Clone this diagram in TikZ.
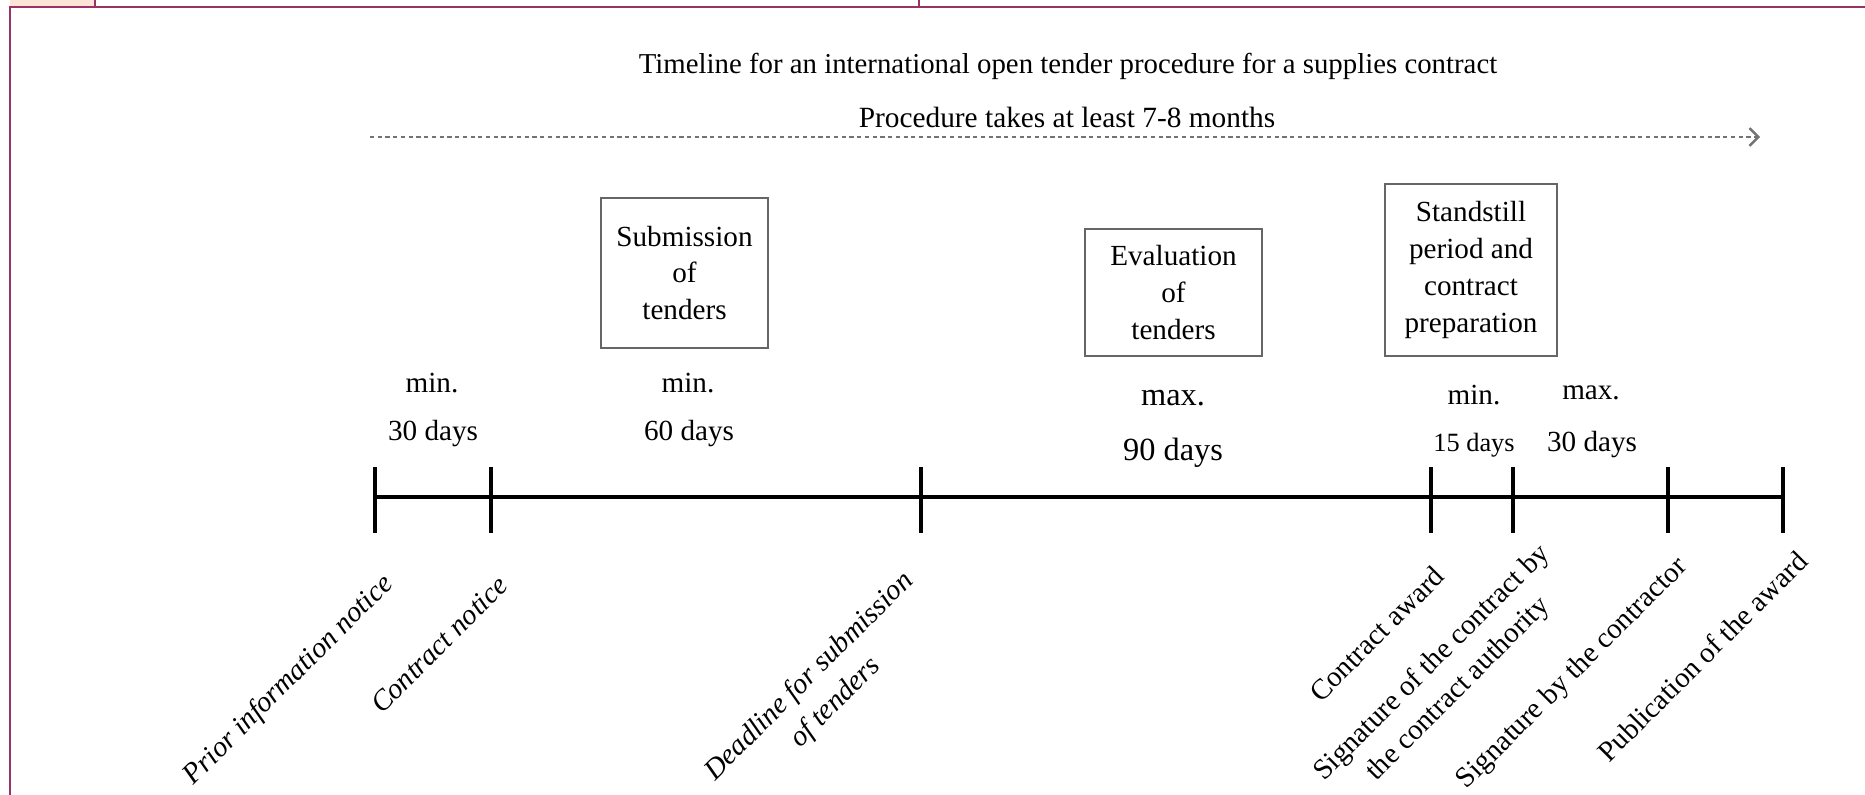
\documentclass[tikz,border=0pt]{standalone}
\usepackage{fontspec}
\setmainfont{Liberation Serif}
\usetikzlibrary{arrows.meta}
\definecolor{rule}{RGB}{153,51,102}
\definecolor{cellpeach}{RGB}{252,228,214}
\tikzset{
  period/.style={draw=black!60, line width=.5pt, align=center, inner sep=0pt,
    font=\fontsize{8.3}{10.5}\selectfont},
  span/.style={inner sep=0pt, font=\fontsize{8.3}{10}\selectfont},
  event/.style={rotate=45, anchor=north east, align=center, inner sep=0pt,
    font=\fontsize{8.2}{10.5}\selectfont},
  tick/.style={line width=1.1pt},
}

\begin{document}
\begin{tikzpicture}[x=1cm, y=1cm]

    \useasboundingbox (0,0) rectangle (18.65,-7.95);

    % frame of the table cell
    \fill[cellpeach] (0.1,0) rectangle (0.95,-0.06);
    \draw[rule, line width=.6pt] (0.1,-7.95) -- (0.1,-0.07) -- (18.65,-0.07);
    \draw[rule, line width=.8pt] (0.95,0) -- (0.95,-0.07);
    \draw[rule, line width=.4pt] (9.19,0) -- (9.19,-0.07);

    \node[font=\fontsize{8.2}{10}\selectfont] (title) at (10.68,-0.66)
        {Timeline for an international open tender procedure for a supplies contract};
    \node[font=\fontsize{8.35}{10}\selectfont] (length) at (10.67,-1.17)
        {Procedure takes at least 7-8 months};

    \coordinate (ps) at (3.70,-1.37);
    \coordinate (pe) at (17.60,-1.37);
    \draw[black!55, line width=.7pt, dash pattern=on 1.2pt off 1pt, -{Straight Barb[length=2.5pt, width=5pt]}] (ps) -- (pe);

    % boxes over the time line
    \node[period, minimum width=1.67cm, minimum height=1.50cm] (sub) at (6.845,-2.73)
        {Submission\\of\\tenders};
    \node[period, minimum width=1.77cm, minimum height=1.27cm] (eval) at (11.735,-2.925)
        {Evaluation\\of\\tenders};
    \node[period, minimum width=1.72cm, minimum height=1.72cm] (still) at (14.71,-2.70)
        {Standstill\\period and\\contract\\preparation};

    \node[span] (m1) at (4.32,-3.83) {min.};
    \node[span] (d1) at (4.33,-4.34) {30 days};
    \node[span] (m2) at (6.88,-3.83) {min.};
    \node[span] (d2) at (6.89,-4.34) {60 days};
    \node[span, font=\fontsize{9.2}{11}\selectfont] (m3) at (11.73,-3.98) {max.};
    \node[span, font=\fontsize{9.2}{11}\selectfont] (d3) at (11.73,-4.53) {90 days};
    \node[span] (m4) at (14.74,-3.95) {min.};
    \node[span, font=\fontsize{7.5}{9}\selectfont] (d4) at (14.74,-4.45) {15 days};
    \node[span] (m5) at (15.91,-3.93) {max.};
    \node[span] (d5) at (15.92,-4.45) {30 days};

    % time line
    \coordinate (t1) at (3.75,-4.97);
    \coordinate (t2) at (4.91,-4.97);
    \coordinate (t3) at (9.21,-4.97);
    \coordinate (t4) at (14.31,-4.97);
    \coordinate (t5) at (15.13,-4.97);
    \coordinate (t6) at (16.68,-4.97);
    \coordinate (t7) at (17.83,-4.97);
    \draw[line width=1.3pt] (t1) -- (t7);
    \foreach \i in {1,...,7}
        \draw[tick] (t\i) +(0,.30) -- +(0,-.36);

    \node[event, font=\itshape\fontsize{8.2}{10.5}\selectfont] (pin) at (3.80,-5.70) {Prior information notice};
    \node[event, font=\itshape\fontsize{8.2}{10.5}\selectfont] (cn) at (4.96,-5.73) {Contract notice};
    \node[event, font=\itshape\fontsize{8.2}{10.5}\selectfont] (dl) at (9.00,-5.67) {Deadline for submission\\of tenders};
    \node[event] (ca) at (14.32,-5.63) {Contract award};
    \node[event] (sca) at (15.36,-5.40) {Signature of the contract by\\the contract authority};
    \node[event] (sc) at (16.74,-5.53) {Signature by the contractor};
    \node[event] (pub) at (17.95,-5.48) {Publication of the award};

\end{tikzpicture}
\end{document}
